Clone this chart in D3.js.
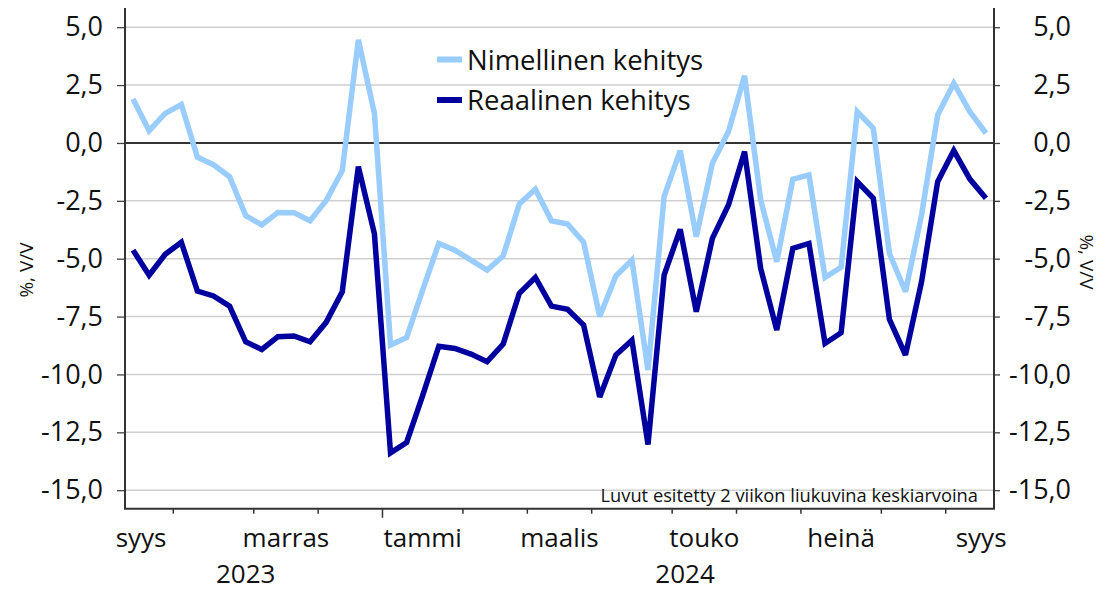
<!DOCTYPE html>
<html>
<head>
<meta charset="utf-8">
<script src="https://cdn.jsdelivr.net/npm/d3@7"></script>
<style>
  html, body { margin: 0; padding: 0; background: #fff; }
  svg { display: block; font-family: "Open Sans", "Noto Sans", sans-serif; }
</style>
</head>
<body>
<svg id="chart" width="1107" height="590"></svg>
<script>
// ---- Data (weekly, 2-week moving averages, Sep 2023 – Sep 2024) ----
const nominal = [
  1.90, 0.53, 1.28, 1.66, -0.62, -0.94, -1.46, -3.14, -3.54, -3.00,
  -3.01, -3.36, -2.49, -1.20, 4.45, 1.28, -8.73, -8.40, -6.35, -4.34,
  -4.63, -5.06, -5.49, -4.88, -2.64, -2.00, -3.36, -3.50, -4.29, -7.50,
  -5.75, -5.06, -9.81, -2.32, -0.33, -4.05, -0.88, 0.49, 2.90, -2.46,
  -5.13, -1.57, -1.38, -5.81, -5.37, 1.35, 0.63, -4.77, -6.43, -3.10,
  1.21, 2.58, 1.35, 0.42
];
const real = [
  -4.63, -5.71, -4.81, -4.29, -6.40, -6.61, -7.05, -8.59, -8.92, -8.37,
  -8.34, -8.59, -7.75, -6.43, -1.02, -3.93, -13.39, -12.94, -10.90, -8.78,
  -8.88, -9.12, -9.45, -8.69, -6.50, -5.81, -7.05, -7.19, -7.87, -10.97,
  -9.16, -8.52, -13.03, -5.71, -3.73, -7.29, -4.12, -2.68, -0.37, -5.42,
  -8.08, -4.55, -4.34, -8.66, -8.20, -1.67, -2.39, -7.62, -9.16, -5.99,
  -1.67, -0.33, -1.56, -2.39
];
const seriesNames = ["Nimellinen kehitys", "Reaalinen kehitys"];
const yTicks = [5, 2.5, 0, -2.5, -5, -7.5, -10, -12.5, -15];
// month boundaries (in week-index units) and the year boundary
const monthTicks = [2.5, 7.5, 11.5, 15.5, 20.5, 24.5, 28.5, 33.5, 37.5, 41.5, 46.5, 50.5];
const yearTick = 15.5;
const monthLabels = ["syys", "marras", "tammi", "maalis", "touko", "heinä", "syys"];
const monthLabelPos = [0.5, 9.5, 18, 26.5, 35.5, 44, 52.7];
const yearLabels = ["2023", "2024"];
const yearLabelPos = [7, 34.3];
const axisTitle = "%, V/V";
const note = "Luvut esitetty 2 viikon liukuvina keskiarvoina";
const colors = ["#99ccff", "#00009f"];

// ---- Layout ----
const svg = d3.select("#chart");
const L = 125, R = 994, T = 8, B = 508.7;
const x = d3.scaleLinear().domain([-0.5, nominal.length - 0.5]).range([L, R]);
const y = d3.scaleLinear().domain([-15.8, 5.83]).range([B, T]);
const fmt = v => d3.format(".1f")(v).replace(".", ",").replace("−", "-");

// gridlines
svg.append("g").selectAll("line").data(yTicks.filter(v => v !== 0)).join("line")
  .attr("x1", L).attr("x2", R)
  .attr("y1", d => y(d)).attr("y2", d => y(d))
  .attr("stroke", "#cfcfcf").attr("stroke-width", 1.5);

// note (behind lines)
svg.append("text").attr("x", 978).attr("y", 501.5)
  .attr("text-anchor", "end").attr("font-size", 18.3).attr("fill", "#111")
  .text(note);

// zero line
svg.append("line").attr("x1", L).attr("x2", R)
  .attr("y1", y(0)).attr("y2", y(0))
  .attr("stroke", "#333").attr("stroke-width", 2);

// left axis
const leftAxis = d3.axisLeft(y).tickValues(yTicks).tickSize(8).tickPadding(14).tickFormat(fmt);
const gl = svg.append("g").attr("transform", `translate(${L},0)`).call(leftAxis);
const rightAxis = d3.axisRight(y).tickValues(yTicks).tickSize(6).tickPadding(6).tickFormat(fmt);
const gr = svg.append("g").attr("transform", `translate(${R},0)`).call(rightAxis);
[gl, gr].forEach(g => {
  g.select(".domain").remove();
  g.selectAll(".tick line").attr("stroke", "#444").attr("stroke-width", 1.3);
  g.selectAll(".tick text").attr("font-size", 27).attr("fill", "#111")
    .attr("font-family", "'Open Sans', sans-serif");
});
gr.selectAll(".tick text").attr("text-anchor", "end").attr("x", 77);

// axis lines (left, right, bottom)
svg.append("line").attr("x1", L).attr("x2", L).attr("y1", T).attr("y2", B)
  .attr("stroke", "#333").attr("stroke-width", 2);
svg.append("line").attr("x1", R).attr("x2", R).attr("y1", T).attr("y2", B)
  .attr("stroke", "#333").attr("stroke-width", 2);
svg.append("line").attr("x1", L - 1).attr("x2", R + 1).attr("y1", B).attr("y2", B)
  .attr("stroke", "#333").attr("stroke-width", 2);

// bottom ticks
svg.append("g").selectAll("line").data(monthTicks).join("line")
  .attr("x1", d => x(d)).attr("x2", d => x(d))
  .attr("y1", B).attr("y2", d => B + (d === yearTick ? 9 : 5))
  .attr("stroke", "#333").attr("stroke-width", 1.5);

// month labels
svg.append("g").selectAll("text").data(monthLabels).join("text")
  .attr("x", (d, i) => x(monthLabelPos[i])).attr("y", 547)
  .attr("text-anchor", "middle").attr("font-size", 26).attr("fill", "#111")
  .text(d => d);
svg.append("g").selectAll("text").data(yearLabels).join("text")
  .attr("x", (d, i) => x(yearLabelPos[i])).attr("y", 583)
  .attr("text-anchor", "middle").attr("font-size", 26).attr("fill", "#111")
  .text(d => d);

// axis titles
svg.append("text").attr("transform", `translate(33,270) rotate(-90)`)
  .attr("text-anchor", "middle").attr("font-size", 19).attr("fill", "#111")
  .text(axisTitle);
svg.append("text").attr("transform", `translate(1080,262) rotate(90)`)
  .attr("text-anchor", "middle").attr("font-size", 19).attr("fill", "#111")
  .text(axisTitle);

// lines
const line = d3.line().x((d, i) => x(i)).y(d => y(d));
[nominal, real].forEach((s, k) => {
  svg.append("path").datum(s).attr("d", line)
    .attr("fill", "none").attr("stroke", colors[k]).attr("stroke-width", 5.5)
    .attr("stroke-linejoin", "miter").attr("stroke-miterlimit", 3);
});

// legend
const lg = svg.append("g");
seriesNames.forEach((name, k) => {
  const yy = 59.5 + k * 40.5;
  lg.append("line").attr("x1", 437).attr("x2", 462).attr("y1", yy).attr("y2", yy)
    .attr("stroke", colors[k]).attr("stroke-width", 6);
  lg.append("text").attr("x", 467).attr("y", yy + 10)
    .attr("font-size", 27.5).attr("fill", "#111").text(name);
});
</script>
</body>
</html>
